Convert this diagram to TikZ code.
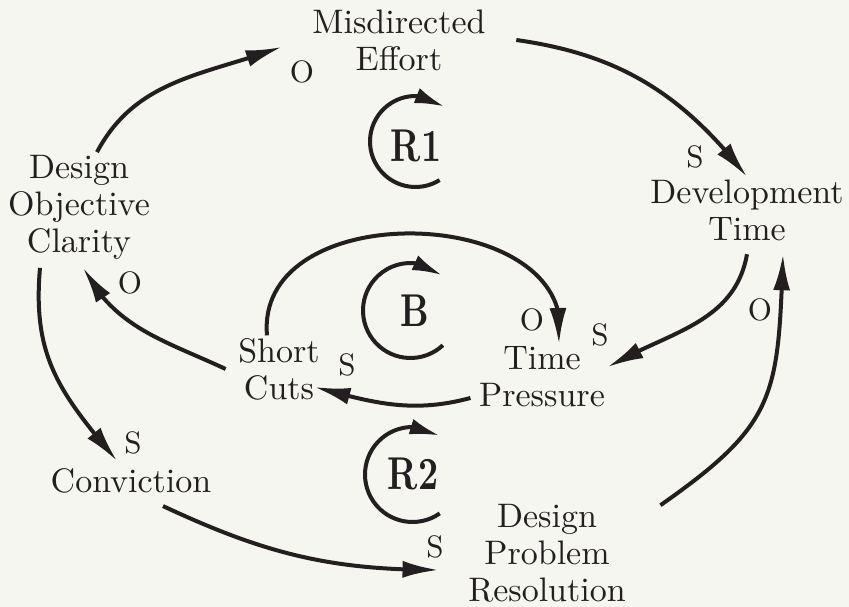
\documentclass[tikz,border=0pt]{standalone}
\usepackage{xcolor}
\usepackage{tikz}
\usetikzlibrary{arrows.meta,bending}
\definecolor{LoopInk}{HTML}{231F20}
\definecolor{LoopPaper}{HTML}{F6F6F1}

\begin{document}
\begin{tikzpicture}[x=1pt, y=1pt,
  var/.style={align=center, text=LoopInk, inner sep=0.6pt, scale=3.4, transform shape, font=\fontsize{10}{10.9}\selectfont},
  pol/.style={text=LoopInk, inner sep=0.4pt, scale=3.1, transform shape, font=\fontsize{10}{10}\selectfont},
  loopname/.style={text=LoopInk, inner sep=0.2pt, xscale=3.5, yscale=4.6, transform shape, font=\fontsize{10}{10}\selectfont\bfseries},
  link/.style={draw=LoopInk, line width=4pt, -{Latex[length=36pt,width=17pt]}},
  loopsym/.style={draw=LoopInk, line width=4pt, -{Latex[length=30pt,width=16pt]}}]

% paper
\path[use as bounding box, fill=LoopPaper] (0,0) rectangle (849,607);

% variables
\node[var] (mis)  at (399,567) {Misdirected\\Effort};
\node[var] (dev)  at (747,397) {Development\\Time};
\node[var] (doc)  at (79,400)  {Design\\Objective\\Clarity};
\node[var] (sc)   at (279,238) {Short\\Cuts};
\node[var] (tp)   at (542,230) {Time\\Pressure};
\node[var] (conv) at (131,126) {Conviction};
\node[var] (dpr)  at (547,54)  {Design\\Problem\\Resolution};

% causal links
\draw[link] ([xshift=18pt]doc.north) to[out=62,in=200] ([xshift=-28pt,yshift=-7pt]mis.west);
\draw[link] ([xshift=28pt]mis.east) to[out=-8,in=128] (dev.north);
\draw[link] ([yshift=-11pt]dev.south) to[out=-100,in=30] ([yshift=10pt]tp.east);
\draw[link] ([xshift=32pt,yshift=-4pt]dpr.north east) to[out=35,in=-92,looseness=1.3] ([xshift=36pt,yshift=-11pt]dev.south);
\draw[link] ([xshift=-6pt,yshift=-21pt]tp.west) to[out=-165,in=-15] ([xshift=-8pt,yshift=-18pt]sc.east);
\draw[link] ([xshift=-12pt]sc.north) to[out=95,in=80,looseness=1.25] ([xshift=17pt]tp.north);
\draw[link] ([xshift=-10pt]sc.west) to[out=155,in=-62] ([xshift=4pt,yshift=-6pt]doc.south);
\draw[link] ([xshift=-39pt,yshift=-6pt]doc.south) to[out=-95,in=130,looseness=1.1] ([xshift=-14pt,yshift=5pt]conv.north);
\draw[link] ([xshift=32pt,yshift=-10pt]conv.south) to[out=-25,in=180] ([xshift=-27pt,yshift=-17pt]dpr.west);

% link polarities
\foreach \x/\y/\s [count=\i] in {302/535/O, 695/450/S, 600/272/S, 760/297/O, 532/287/O,
    347/242/S, 130/324/O, 133/164/S, 435/60/S}
  \node[pol] (pol\i) at (\x,\y) {\s};

% loop markers
\draw[loopsym] (415.5,465.5) ++(-58:45.5) arc[start angle=-58, end angle=-310, radius=45.5];
\node[loopname] (r1) at (416,461) {R1};
\draw[loopsym] (410.5,296.5) ++(-47:47.5) arc[start angle=-47, end angle=-312, radius=47.5];
\node[loopname] (bal) at (415,296) {B};
\draw[loopsym] (412.5,132.5) ++(-55:47.5) arc[start angle=-55, end angle=-305, radius=47.5];
\node[loopname] (r2) at (413,133) {R2};
\end{tikzpicture}
\end{document}
